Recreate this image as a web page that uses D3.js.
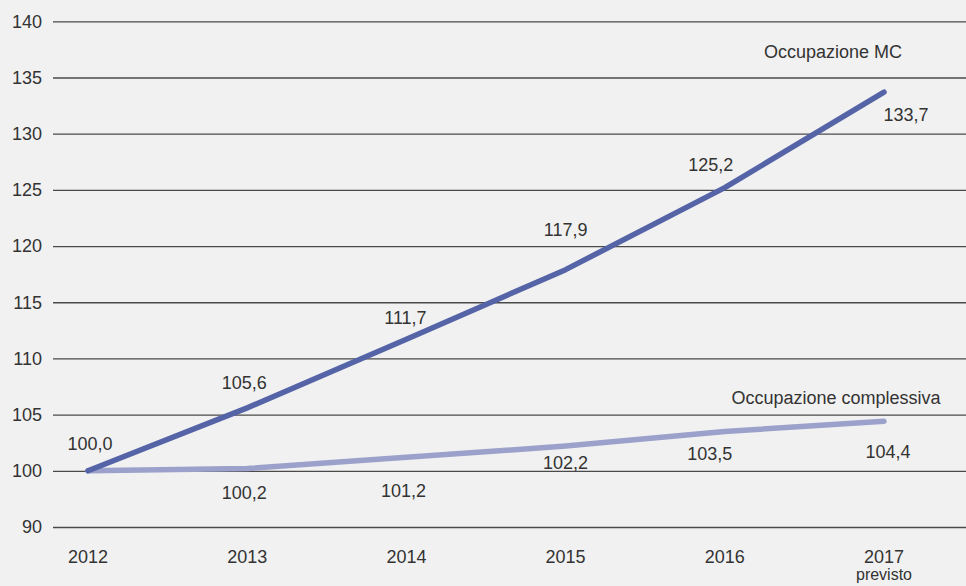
<!DOCTYPE html>
<html><head><meta charset="utf-8">
<script src="https://cdn.jsdelivr.net/npm/d3@7"></script>
<style>
html,body{margin:0;padding:0;background:#f1f1f1;}
svg{display:block;font-family:"Liberation Sans",Arial,sans-serif;}
</style></head>
<body>
<svg id="chart" width="966" height="586"></svg>
<script>
// ---- data ----
const years = ["2012","2013","2014","2015","2016","2017"];
const yearSub = ["","","","","","previsto"];
const seriesNames = ["Occupazione MC","Occupazione complessiva"];
const mcValues = [100.0,105.6,111.7,117.9,125.2,133.7];
const totValues = [100.0,100.2,101.2,102.2,103.5,104.4];
// the axis is broken: the lowest gridline is labelled "90" but sits one step below 100
const tickValues = [95,100,105,110,115,120,125,130,135,140];
const tickLabels = ["90","100","105","110","115","120","125","130","135","140"];

// ---- layout ----
const W = 966, H = 586;
const FS = 18;
const svg = d3.select("#chart");
const x = d3.scalePoint().domain(years).range([88, 884]);
const y = d3.scaleLinear().domain([95, 140]).range([527, 21.3]);
const fmt = v => d3.format(".1f")(v).replace(".", ",");

// gridlines + y labels
const yAxis = d3.axisLeft(y).tickValues(tickValues)
  .tickSize(-(W - 53)).tickPadding(10)
  .tickFormat((d, i) => tickLabels[i]);
const gy = svg.append("g").attr("transform", "translate(53,0)").call(yAxis);
gy.select(".domain").remove();
gy.selectAll(".tick line").attr("stroke", "#4a4a4a").attr("stroke-width", 1.3);
gy.selectAll(".tick text").attr("fill", "#333").attr("font-size", FS)
  .attr("x", -11).attr("text-anchor", "end");

// x labels
const xl = svg.append("g");
xl.selectAll("text.yr").data(years).join("text").attr("class","yr")
  .attr("x", d => x(d)).attr("y", 563).attr("text-anchor","middle")
  .attr("font-size", FS).attr("fill", "#333").text(d => d);
xl.selectAll("text.sub").data(years.filter((d,i)=>yearSub[i])).join("text").attr("class","sub")
  .attr("x", d => x(d)).attr("y", 580).attr("text-anchor","middle")
  .attr("font-size", 16).attr("fill", "#333").text(d => yearSub[years.indexOf(d)]);

// lines
const line = d3.line().x((d,i) => x(years[i])).y(d => y(d));
svg.append("path").datum(totValues).attr("d", line)
  .attr("fill","none").attr("stroke","#9ba1cb").attr("stroke-width",5.5)
  .attr("stroke-linecap","round").attr("stroke-linejoin","round");
svg.append("path").datum(mcValues).attr("d", line)
  .attr("fill","none").attr("stroke","#5563a7").attr("stroke-width",5.5)
  .attr("stroke-linecap","round").attr("stroke-linejoin","round");

// value labels (offsets relative to each point)
const mcOff = [[2,-21],[-3,-19],[-1,-15],[0,-34],[-14,-17],[22,29]];
const totOff = [[0,0],[-3,30],[-3,40],[0,23],[-15,29],[4,37]];
svg.append("g").selectAll("text").data(mcValues).join("text")
  .attr("x",(d,i)=>x(years[i])+mcOff[i][0]).attr("y",(d,i)=>y(d)+mcOff[i][1])
  .attr("text-anchor","middle").attr("font-size",FS).attr("fill","#333").text(fmt);
svg.append("g").selectAll("text").data(totValues.slice(1)).join("text")
  .attr("x",(d,i)=>x(years[i+1])+totOff[i+1][0]).attr("y",(d,i)=>y(d)+totOff[i+1][1])
  .attr("text-anchor","middle").attr("font-size",FS).attr("fill","#333").text(fmt);

// series names
svg.append("text").attr("x", 833).attr("y", 58).attr("text-anchor","middle")
  .attr("font-size",FS).attr("fill","#333").text(seriesNames[0]);
svg.append("text").attr("x", 836).attr("y", 404).attr("text-anchor","middle")
  .attr("font-size",FS).attr("fill","#333").text(seriesNames[1]);
</script>
</body></html>
